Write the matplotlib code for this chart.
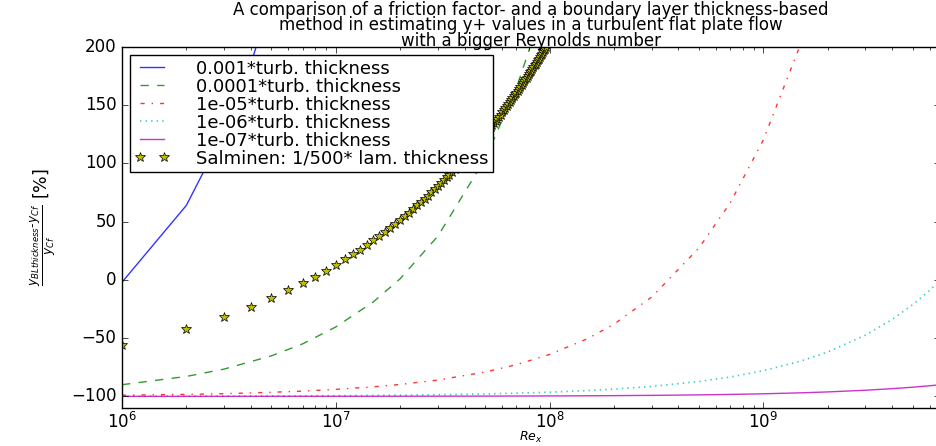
import matplotlib
matplotlib.use("Agg")
import matplotlib.pyplot as plt

plt.style.use("classic")
plt.rcParams["mathtext.fontset"] = "dejavusans"
plt.rcParams["font.family"] = ["DejaVu Sans"]

# ---- data ----
re_blue = [1e6, 2e6, 3e6, 4e6, 5e6]
blue_vals = [-2, 64, 127, 185, 243]

re_grid = [1e6, 2e6, 3e6, 5e6, 7e6, 1e7, 1.5e7, 2e7, 3e7, 5e7, 7e7, 1e8,
           1.5e8, 2e8, 3e8, 5e8, 7e8, 1e9, 1.5e9, 2e9, 3e9, 4e9, 5e9, 6e9, 7e9]
green_vals = [-90.0, -82.9, -76.6, -65.2, -54.9, -40.4, -18.8, 1.0, 37.5, 104.0,
              165.0, 250.0, 394.4, 519.8, 752.3, 1175.0, 1562.0, 2103.0, 2935.0,
              3712.0, 5153.0, 6501.0, 7782.0, 9008.0, 10194.0]
red_vals = [-99.0, -98.3, -97.7, -96.5, -95.5, -94.0, -91.8, -89.8, -86.0, -79.1,
            -72.8, -64.0, -50.6, -38.0, -14.8, 27.5, 66.2, 120.3, 203.5, 281.2,
            425.3, 560.1, 688.2, 810.8, 929.4]
cyan_vals = [-99.90, -99.83, -99.77, -99.65, -99.55, -99.40, -99.18, -98.98, -98.60,
             -97.91, -97.28, -96.40, -95.06, -93.80, -91.48, -87.25, -83.38, -77.97,
             -69.65, -61.88, -47.47, -33.99, -21.18, -8.92, 2.94]
magenta_vals = [-99.99, -99.98, -99.98, -99.97, -99.95, -99.94, -99.92, -99.90,
                -99.86, -99.79, -99.73, -99.64, -99.51, -99.38, -99.15, -98.73,
                -98.34, -97.80, -96.97, -96.19, -94.75, -93.40, -92.12, -90.89, -89.71]

star_n = list(range(1, 97))
star_vals = [-56.0, -41.9, -31.5, -22.9, -15.4, -8.8, -2.7, 2.8, 8.0, 12.9,
             17.6, 22.0, 26.1, 30.2, 34.0, 37.8, 41.4, 44.9, 48.2, 51.5,
             54.7, 57.8, 60.9, 63.9, 66.7, 69.6, 72.4, 75.1, 77.8, 80.4,
             83.0, 85.5, 88.0, 90.4, 92.8, 95.2, 97.5, 99.8, 102.1, 104.3,
             106.5, 108.7, 110.8, 112.9, 115.1, 117.1, 119.1, 121.2, 123.2, 125.2,
             127.1, 129.0, 131.0, 132.9, 134.7, 136.6, 138.5, 140.2, 142.0, 143.8,
             145.6, 147.4, 149.1, 150.8, 152.6, 154.3, 156.0, 157.6, 159.3, 160.9,
             162.6, 164.2, 165.8, 167.4, 169.0, 170.5, 172.1, 173.7, 175.2, 176.7,
             178.3, 179.8, 181.3, 182.8, 184.3, 185.7, 187.2, 188.6, 190.1, 191.5,
             192.9, 194.4, 195.8, 197.2, 198.6, 200.0]
star_re = [n * 1e6 for n in star_n]

labels = ["0.001*turb. thickness", "0.0001*turb. thickness", "1e-05*turb. thickness",
          "1e-06*turb. thickness", "1e-07*turb. thickness",
          "Salminen: 1/500* lam. thickness"]

# ---- figure ----
fig = plt.figure(figsize=(9.36, 4.46), dpi=100, facecolor="white")
W, H = 936.0, 446.0
ax = fig.add_axes([122 / W, 38 / H, (940 - 122) / W, 361 / H])

ax.plot(re_blue, blue_vals, color="b", ls="-", lw=1, alpha=0.8, label=labels[0])
ax.plot(re_grid, green_vals, color="g", ls="--", lw=1, alpha=0.8, label=labels[1])
ax.plot(re_grid, red_vals, color="r", ls="-.", lw=1, alpha=0.8, label=labels[2])
ax.plot(re_grid, cyan_vals, color="c", ls=":", lw=1.2, alpha=0.8, label=labels[3])
ax.plot(re_grid, magenta_vals, color="m", ls="-", lw=1, alpha=0.8, label=labels[4])
ax.plot(star_re, star_vals, ls="none", marker="*", markersize=7, color="y",
        markeredgecolor="k", markeredgewidth=0.5, label=labels[5])

ax.set_xscale("log")
ax.set_xlim(1e6, 6.7e9)
ax.set_ylim(-110, 200)
ax.set_yticks([-100, -50, 0, 50, 100, 150, 200])
ax.tick_params(labelsize=12)
ax.tick_params(axis="x", which="both", pad=3)

ax.set_xlabel(r"$Re_x$", fontsize=9, va="top")
ax.xaxis.set_label_coords(0.5, -0.062)
ax.set_ylabel(r"$\frac{y_{BLthickness}\text{-}y_{Cf}}{y_{Cf}}$ [%]", fontsize=12.5)
ax.yaxis.set_label_coords(-0.078, 0.5)

ax.set_title("A comparison of a friction factor- and a boundary layer thickness-based\n"
             "method in estimating y+ values in a turbulent flat plate flow\n"
             "with a bigger Reynolds number", fontsize=12, linespacing=0.8, pad=1)

leg = ax.legend(loc="upper left", fontsize=13, labelspacing=0.0, numpoints=2,
                handlelength=1.9, borderpad=0.25, borderaxespad=0.45, handletextpad=1.5,
                fancybox=False)
leg.get_frame().set_linewidth(1)

fig.savefig("out.png", dpi=100, facecolor="white")
